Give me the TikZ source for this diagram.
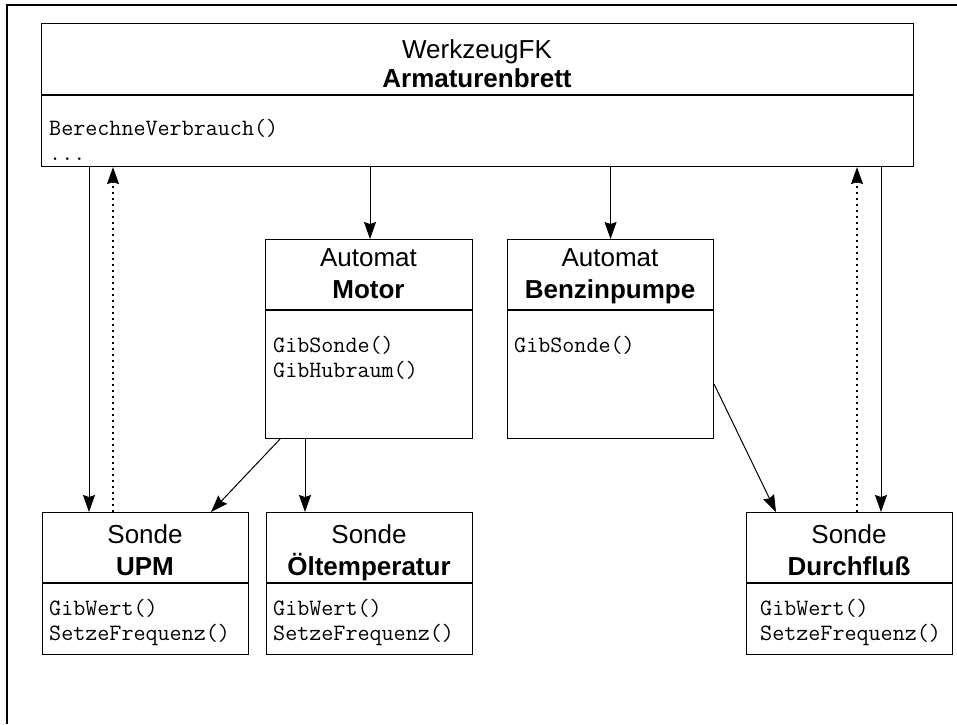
\documentclass[tikz,border=0pt]{standalone}
\usepackage{fontspec}
\setmainfont{Liberation Sans}
\usetikzlibrary{arrows.meta}
\tikzset{
  klasse/.style={draw, line width=1.1pt, inner sep=0pt, anchor=north west},
  titel/.style={anchor=base, inner sep=0pt, font=\fontsize{26}{32}\selectfont},
  methode/.style={anchor=base west, inner sep=0pt, font=\ttfamily\fontsize{23.4}{25}\selectfont},
  fluss/.style={-{Stealth[length=17pt,width=12pt,inset=2pt]}, line width=1pt},
  rueck/.style={-{Stealth[length=17pt,width=12pt,inset=2pt]}, line width=1.4pt, dash pattern=on 2.5pt off 3.5pt},
}

\begin{document}
\begin{tikzpicture}[x=1pt,y=-1pt]
    \useasboundingbox (0,0) rectangle (957,724);
    \draw[line width=2pt] (7,724) -- (7,5) -- (957,5);

    % Klassen
    \node[klasse, minimum width=872pt, minimum height=143pt] (brett) at (41,23) {};
    \node[klasse, minimum width=207pt, minimum height=199pt] (motor) at (265,239) {};
    \node[klasse, minimum width=206pt, minimum height=199pt] (pumpe) at (507,239) {};
    \node[klasse, minimum width=206pt, minimum height=142pt] (upm) at (42,512) {};
    \node[klasse, minimum width=206pt, minimum height=142pt] (oel) at (266,512) {};
    \node[klasse, minimum width=206pt, minimum height=142pt] (durch) at (746,512) {};

    % Trennlinien
    \draw[line width=1.1pt] ([yshift=-72pt]brett.north west) -- ([yshift=-72pt]brett.north east);
    \draw[line width=1.1pt] ([yshift=-71pt]motor.north west) -- ([yshift=-71pt]motor.north east);
    \draw[line width=1.1pt] ([yshift=-71pt]pumpe.north west) -- ([yshift=-71pt]pumpe.north east);
    \draw[line width=1.1pt] ([yshift=-71pt]upm.north west) -- ([yshift=-71pt]upm.north east);
    \draw[line width=1.1pt] ([yshift=-71pt]oel.north west) -- ([yshift=-71pt]oel.north east);
    \draw[line width=1.1pt] ([yshift=-71pt]durch.north west) -- ([yshift=-71pt]durch.north east);

    % Texte
    \node[titel] (brett1) at (477,58) {WerkzeugFK};
    \node[titel] (brett2) at (477,87) {\textbf{Armaturenbrett}};
    \node[methode] (brett3) at (49,135) {BerechneVerbrauch()};
    \node[methode] (brett4) at (49,160) {...};

    \node[titel] (motor1) at (368.5,266) {Automat};
    \node[titel] (motor2) at (368.5,298) {\textbf{Motor}};
    \node[methode] (motor3) at (273,352) {GibSonde()};
    \node[methode] (motor4) at (273,377) {GibHubraum()};

    \node[titel] (pumpe1) at (610,266) {Automat};
    \node[titel] (pumpe2) at (610,298) {\textbf{Benzinpumpe}};
    \node[methode] (pumpe3) at (514,352) {GibSonde()};

    \node[titel] (upm1) at (145,543) {Sonde};
    \node[titel] (upm2) at (145,575) {\textbf{UPM}};
    \node[methode] (upm3) at (49,615) {GibWert()};
    \node[methode] (upm4) at (49,640) {SetzeFrequenz()};

    \node[titel] (oel1) at (369,543) {Sonde};
    \node[titel] (oel2) at (369,575) {\textbf{Öltemperatur}};
    \node[methode] (oel3) at (273,615) {GibWert()};
    \node[methode] (oel4) at (273,640) {SetzeFrequenz()};

    \node[titel] (durch1) at (849,543) {Sonde};
    \node[titel] (durch2) at (849,575) {\textbf{Durchfluß}};
    \node[methode] (durch3) at (760,615) {GibWert()};
    \node[methode] (durch4) at (760,640) {SetzeFrequenz()};

    % Verbindungen
    \draw[fluss] ([xshift=48pt]brett.south west) -- ([xshift=47pt]upm.north west);
    \draw[rueck] ([xshift=71pt]upm.north west) -- ([xshift=72pt]brett.south west);
    \draw[fluss] ([xshift=329pt]brett.south west) -- ([xshift=105pt]motor.north west);
    \draw[fluss] (pumpe.north |- brett.south) -- (pumpe.north);
    \draw[rueck] ([xshift=111pt]durch.north west) -- ([xshift=816pt]brett.south west);
    \draw[fluss] ([xshift=840pt]brett.south west) -- ([xshift=135pt]durch.north west);
    \draw[fluss] ([xshift=15pt]motor.south west) -- ([xshift=169pt]upm.north west);
    \draw[fluss] ([xshift=40pt]motor.south west) -- ([xshift=39pt]oel.north west);
    \draw[fluss] ([yshift=55pt]pumpe.south east) -- ([xshift=30pt]durch.north west);
\end{tikzpicture}
\end{document}
